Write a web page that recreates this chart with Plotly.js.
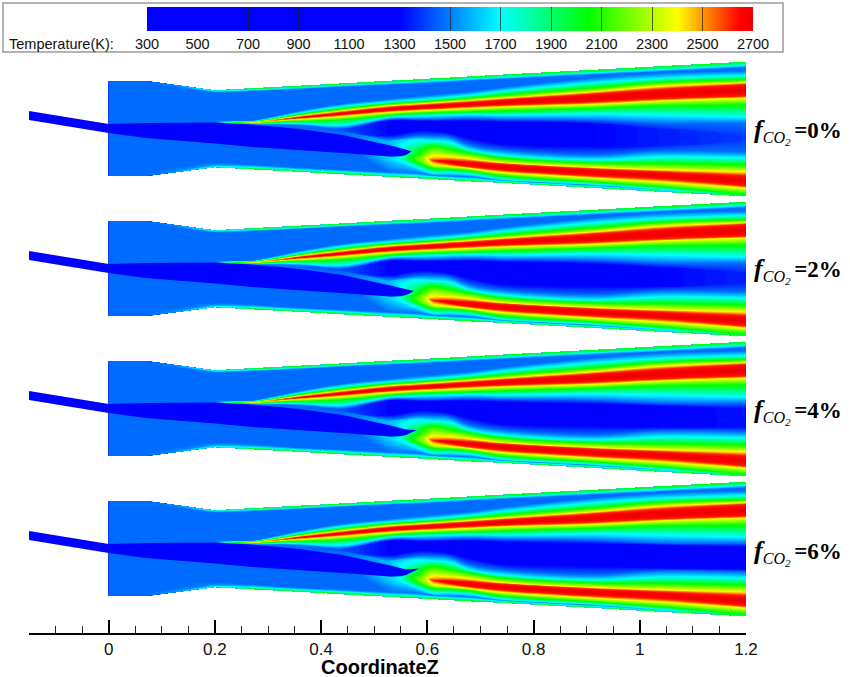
<!DOCTYPE html>
<html><head><meta charset="utf-8">
<script src="https://cdn.plot.ly/plotly-3.0.1.min.js"></script>
<style>
html,body{margin:0;padding:0;background:#fff}
#chart{width:850px;height:677px}
.contourcarpetlayer,.scatterlayer{filter:blur(0.6px)}
</style></head><body><div id="chart"></div>
<script>
// Axial stations (CoordinateZ)
const stations=[0,0.07,0.2,0.27,0.36,0.44,0.53,0.58,0.61,0.64,0.68,0.74,0.91,1.04,1.2];
// Radial position (hidden y axis) of each isotherm row at every station, top panel
const rowsAt=[
[81,82,83,119,119.5,120,120.5,121,121.5,122,122.5,123,123.5,124,125,126,127,128,129,130,131,132,133,134,135,136,172,174,176],
[81,82,83,119,119.5,120,120.5,121,121.5,122,122.5,123,123.5,124,125,126,127,128,129,130,131,132,133,134,135,136,172,174,176],
[90.5,91.5,92.5,120,120.5,121,121.5,122,122.5,123,123.5,124,124.5,125,126,127,128,129,130,131,132,133,134,135,136,137,163,165.5,167],
[88.5,89.7,91,120,121,121.5,122,122.3,122.8,123.2,123.6,124,124.3,124.6,125,126,127,128,129,130,131,132,133,134,135,136,165,167.5,169],
[86,87.5,89,111,113,115,116,117,117.5,118,119,121,123.5,125,126,127,128,129,130,131,132,133,134,135,136,137,168,170,171.6],
[83.7,85.2,86.7,104,106.5,109,111,112.5,113.5,114.5,116,119.5,125,128,130,131,132,133,134,135,136,137,138,139,140,141,170,172,173.9],
[81.1,82.9,84.6,99,102,104,106,107.5,109,110.5,112,115,117,119,120.5,135,139,142,144,146,148,150,152,154,156,158,172,175,176.6],
[79.7,81.7,83.7,96.5,100,102.3,104.2,105.6,107.3,109,110.5,113,116,119,121,131,136,140,145,148,152,154,156,159,162.5,166,173,176,178],
[78.8,80.8,82.8,95,98.8,101.2,103.2,104.6,106.4,108.2,109.8,112.5,115.5,119,121,131,136,141,146,155,158.5,160.5,162,165,168,173,175.5,177,178.8],
[78,80,82,93.7,97.5,100,102.2,103.6,105.5,107.4,109,112,115,118.5,121,133,137,142,149,157,160.5,162,163.5,166,169,172.7,176,178,179.7],
[76.8,78.8,80.8,91.7,95.5,98.2,100.8,102.2,104.2,106.3,108,111.5,114.5,118,121,138,145,150,153,159,161.7,164,166.7,168,170.7,174,177,179,180.9],
[75.1,77.1,79.1,87.5,91.5,95.3,98.5,100,102.5,105,106.5,110.7,115,119,122,144,150,155,158,163,164,167,170,172,175.7,179,180.3,181.5,182.6],
[70.2,72.7,74.7,78,83,88,92.2,94,98,102,104,108,114,120,124,146,155,160,163,167.7,169,172.5,175.7,177.7,181.7,184,185.3,186.5,187.6],
[66.5,69.5,71.5,73,78.5,82.3,86.5,89.3,94,98.7,100.5,105.5,115,123,130,145,151,157,163.5,170,172,175.5,179,181.7,186.7,189,190,190.8,191.4],
[62,65,67.5,71,75.5,80,83,84.5,90.2,96,97.7,105,117,123,137,139,152,158,165,172,175.7,181,186,187.7,194,194.6,195,195.5,196]
];
// Temperature (K) on those rows
const S=1470;
const upperFlame=[2050,1700,S,S,1700,2050,2400,2620,2700,2620,2400,2050,1700,S];
const lowerFlame=[S,1700,2050,2400,2620,2700,2620,2400,2050,1700,S,1700,2050];
const tempsAt=[
[S,S,S,S,S,S,S,S,S,S,S,S,S,S,S,S,S,S,S,S,S,S,S,S,S,S,S,S,S],
[S,S,S,S,S,S,S,S,S,S,S,S,S,S,S,S,S,S,S,S,S,S,S,S,S,S,S,S,S],
[1750,1550,S,S,S,S,S,S,S,S,S,S,S,S,S,S,S,S,S,S,S,S,S,S,S,S,S,1550,1750],
[2050,1700,S,S,1500,1700,1900,2150,2400,2150,1900,1700,1500,S,S,S,S,S,S,S,S,S,S,S,S,S,S,1700,2050],
[2050,1700,S,S,1700,2050,2400,2560,2700,2560,2400,2050,1700,S,S,S,S,S,S,S,S,S,S,S,S,S,S,1700,2050],
[...upperFlame,1420,1420,S,S,S,S,S,S,S,S,S,S,S,1700,2050],
[...upperFlame,1300,1300,S,1600,1600,1550,1500,1500,1500,1500,1550,1650,S,1700,2050],
[...upperFlame,1300,1300,S,1700,1800,1900,1950,2000,2100,2150,2050,1750,S,1700,2050],
[...upperFlame,1300,1300,S,1700,2050,2350,2480,2620,2480,2350,2050,1700,S,1700,2050],
[...upperFlame,1300,1300,...lowerFlame],
[...upperFlame,1300,1300,...lowerFlame],
[...upperFlame,1300,1300,...lowerFlame],
[...upperFlame,1300,1300,...lowerFlame],
[...upperFlame,1300,1300,S,1700,2050,2400,2620,2700,2620,2400,2050,1700,1600,1700,2050],
[...upperFlame,1300,1300,S,1700,2050,2400,2620,2700,2620,2400,2050,2000,2000,2000,2050]
];
// One entry per panel
const panelLabels=['0%','2%','4%','6%'];
const panelShift=[0,140,280,420];
const labelY=[131,270,411,552];
const coreEndT13=[1340,1300,1300,1300];
const coreEndT14=[1390,1350,1320,1300];
const coreTop13=[130,128,126,125];
const coreBottom13=[145,146,147,148];
const coreTop14=[137,133,129,127];
const coreBottom14=[139,143,147,149];
const jetTipX=[0.57,0.575,0.58,0.585];
const jetTipY=[151.5,151,150,148.5];
// Cold fuel jet
const tubeX=[-0.15,0];
const tubeTop=[111,124];
const tubeBottom=[120,133];
const jetX=[0,0.07,0.2,0.27,0.36,0.44,0.53,0.55,0.56];
const jetTop=[124,123,122.5,124.5,129,135,145.5,148,149.5];
const jetBottom=[133,138,143.5,147,150,153,156.5,156.3,155];
// Colour bar
const tempMin=300,tempMax=2700,tempStep=200;
const colorStops=[[0,'rgb(0,0,255)'],[0.4167,'rgb(0,0,255)'],[0.5833,'rgb(0,255,255)'],[0.7292,'rgb(0,255,0)'],[0.875,'rgb(255,255,0)'],[0.979,'rgb(255,0,0)'],[1,'rgb(235,0,0)']];

const traces=[];
const hiddenCarpetAxis={showgrid:false,showline:false,startline:false,endline:false,showticklabels:'none',minorgridcount:0,smoothing:0,gridwidth:0,linewidth:0};
const rowIdx=rowsAt[0].map((_,i)=>i);
// Colour key: a heatmap lying outside the axis ranges, only its colour bar shows
traces.push({type:'heatmap',x:[5,6],y:[2000,2001],z:[[tempMin,tempMax],[tempMin,tempMax]],colorscale:colorStops,zmin:tempMin,zmax:tempMax,hoverinfo:'skip',
  colorbar:{orientation:'h',lenmode:'pixels',len:606,thicknessmode:'pixels',thickness:24,
    x:(450-29)/717,xanchor:'center',y:(633-7)/633,yanchor:'top',xpad:0,ypad:0,outlinewidth:0,
    tick0:tempMin,dtick:tempStep,ticks:'inside',ticklen:24,tickwidth:1,tickcolor:'rgba(30,30,30,0.7)',
    tickfont:{family:'Liberation Sans',size:14.5,color:'#111'}}});
panelShift.forEach((shift,p)=>{
  const yCols=rowsAt.map(c=>c.slice());
  const zCols=tempsAt.map(c=>c.slice());
  yCols[13][14]=coreTop13[p]; yCols[13][15]=coreBottom13[p];
  yCols[14][14]=coreTop14[p]; yCols[14][15]=coreBottom14[p];
  zCols[13][14]=zCols[13][15]=coreEndT13[p];
  zCols[14][14]=zCols[14][15]=coreEndT14[p];
  const y2=rowIdx.map(r=>yCols.map(c=>c[r]+shift));
  const x2=rowIdx.map(()=>stations.slice());
  const z2=rowIdx.map(r=>zCols.map(c=>c[r]));
  traces.push({type:'carpet',carpet:'p'+p,a:stations,b:rowIdx,x:x2,y:y2,aaxis:hiddenCarpetAxis,baxis:hiddenCarpetAxis,hoverinfo:'skip'});
  traces.push({type:'contourcarpet',carpet:'p'+p,a:stations,b:rowIdx,z:z2,autocontour:false,
    contours:{start:tempMin,end:tempMax,size:12.5,coloring:'fill',showlines:false},line:{width:0},
    colorscale:colorStops,zauto:false,zmin:tempMin,zmax:tempMax,showscale:false,hoverinfo:'skip'});
  const poly=(xs,top,bot)=>({type:'scatter',mode:'lines',x:xs.concat(xs.slice().reverse()),
    y:top.concat(bot.slice().reverse()).map(v=>v+shift),fill:'toself',fillcolor:'rgb(0,0,255)',line:{width:0},hoverinfo:'skip',showlegend:false});
  traces.push(poly(tubeX,tubeTop,tubeBottom));
  traces.push(poly(jetX.concat(jetTipX[p]),jetTop.concat(jetTipY[p]),jetBottom.concat(jetTipY[p])));
});
const labels=panelLabels.map((t,i)=>({xref:'paper',yref:'y',x:(752-29)/717,y:labelY[i],xanchor:'left',yanchor:'middle',showarrow:false,
  text:'<i><b><span style="font-size:26px">f</span></b><sub>CO<sub>2</sub></sub></i><span style="font-size:14px">&nbsp;</span><b>='+t+'</b>',font:{family:'Liberation Serif',size:23,color:'#000'}}));
const layout={width:850,height:677,margin:{l:29,r:104,t:0,b:44,autoexpand:false},paper_bgcolor:'#fff',plot_bgcolor:'rgba(0,0,0,0)',showlegend:false,
  xaxis:{range:[-0.15,1.2],tick0:0,dtick:0.2,ticks:'inside',ticklen:13,tickwidth:2,tickcolor:'#000',showline:true,linecolor:'#000',linewidth:2,showgrid:false,zeroline:false,
    minor:{tick0:0,dtick:0.05,ticks:'inside',ticklen:7,tickwidth:1,tickcolor:'#222',showgrid:false},
    tickfont:{family:'Liberation Sans',size:17,color:'#111'}},
  yaxis:{range:[633,0],visible:false},
  shapes:[{type:'rect',xref:'paper',yref:'paper',x0:(3-29)/717,x1:(783-29)/717,y0:(633-52)/633,y1:(633-3)/633,line:{color:'#9a9a9a',width:1.5},fillcolor:'#fff',layer:'below'}],
  annotations:labels.concat([
    {xref:'paper',yref:'paper',x:(7-29)/717,y:(633-44)/633,xanchor:'left',yanchor:'middle',showarrow:false,text:'Temperature(K):',font:{family:'Liberation Sans',size:14.5,color:'#111'}},
    {xref:'paper',yref:'paper',x:(380-29)/717,y:(633-667)/633,xanchor:'center',yanchor:'middle',showarrow:false,text:'<b>CoordinateZ</b>',font:{family:'Liberation Sans',size:20,color:'#000'}}
  ])};
Plotly.newPlot('chart',traces,layout,{displayModeBar:false,staticPlot:true});
</script></body></html>
